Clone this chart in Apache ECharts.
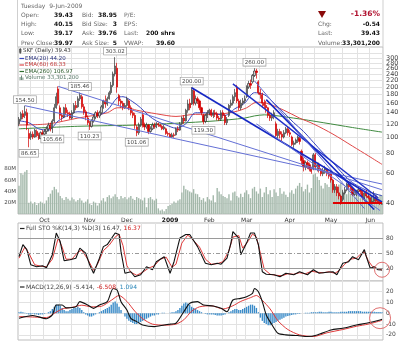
<!DOCTYPE html>
<html><head><meta charset="utf-8">
<script src="https://cdn.jsdelivr.net/npm/echarts@6/dist/echarts.min.js"></script>
<style>html,body{margin:0;padding:0;background:#fff}#c{width:400px;height:341px}</style>
</head><body><div id="c"></div>
<script>
// ---------- DATA ----------
const monthDays = [
 ['2008-09',[12,15,16,17,18,19,22,23,24,25,26,29,30]],
 ['2008-10',[1,2,3,6,7,8,9,10,13,14,15,16,17,20,21,22,23,24,27,28,29,30,31]],
 ['2008-11',[3,4,5,6,7,10,11,12,13,14,17,18,19,20,21,24,25,26,28]],
 ['2008-12',[1,2,3,4,5,8,9,10,11,12,15,16,17,18,19,22,23,24,26,29,30,31]],
 ['2009-01',[2,5,6,7,8,9,12,13,14,15,16,20,21,22,23,26,27,28,29,30]],
 ['2009-02',[2,3,4,5,6,9,10,11,12,13,17,18,19,20,23,24,25,26,27]],
 ['2009-03',[2,3,4,5,6,9,10,11,12,13,16,17,18,19,20,23,24,25,26,27,30,31]],
 ['2009-04',[1,2,3,6,7,8,9,13,14,15,16,17,20,21,22,23,24,27,28,29,30]],
 ['2009-05',[1,4,5,6,7,8,11,12,13,14,15,18,19,20,21,22,26,27,28,29]],
 ['2009-06',[1,2,3,4,5,8,9]]
];
const monthLabels = {'2008-10':'Oct','2008-11':'Nov','2008-12':'Dec','2009-01':'2009','2009-02':'Feb','2009-03':'Mar','2009-04':'Apr','2009-05':'May','2009-06':'Jun'};
const priceTicks = [40,60,80,100,120,140,160,180,200,220,240,260,280,300,320];
const volumeTicks = [20e6,40e6,60e6,80e6];
const stoTicks = [20,50,80];
const macdTicks = [-20,-10,0,10,20];

// [open, close, low, high]
const ohlc = [
 [120,128,116,132],[128,138,125,142],[138,132,128,145],[135,142,130,154.5],[140,118,110,148],
 [105,98,86.65,112],[100,104,96,108],[104,100,97,108],[100,110,99,112],[108,102,100,111],
 [103,98,96,106],[98,106,97,108],[106,104,101,110],
 [104,108,100,112],[108,112,104,116],[112,118,108,122],[118,112,108,122],[112,125,105.66,128],
 [125,150,122,158],[150,175,148,185],[195,160,155,202],[150,135,128,155],[135,132,125,140],
 [132,150,130,152],[150,140,135,158],[140,138,132,146],[138,130,128,142],[130,140,128,145],
 [140,155,138,160],[155,150,145,165],[152,170,150,176],[170,178,165,185.46],[175,152,148,180],
 [152,142,136,158],[142,132,126,146],[130,122,118,135],
 [122,116,110.23,125],[116,125,114,128],[125,132,122,135],[132,140,128,143],[140,134,130,145],
 [134,140,130,144],[140,152,137,156],[152,165,148,168],[165,158,150,178],[158,170,154,175],
 [170,185,168,190],[185,205,180,215],[205,240,200,248],[240,268,232,303.02],[260,200,185,280],
 [178,165,155,182],[165,160,150,170],[160,150,145,165],[150,155,148,160],
 [155,170,152,175],[165,150,145,168],[150,140,135,155],[140,135,130,145],[135,118,112,140],
 [115,106,101.06,118],[106,118,103,122],[118,128,115,132],[136,118,114,141],[118,115,110,122],
 [115,118,112,122],[118,108,104,120],[108,112,106,116],[112,118,110,122],[118,115,112,122],
 [115,120,113,123],[120,118,115,122],[118,116,114,120],[116,112,110,118],[112,115,110,118],
 [112,105,103,114],[105,104,101,108],
 [104,100,99,106],[100,103,99,106],[103,102,99,106],[103,112,102,114],[112,110,107,116],
 [110,120,109,123],[120,130,118,133],[130,125,120,135],[125,145,124,148],[145,158,140,168],
 [160,150,145,170],[158,192,156,200],[190,160,155,195],[160,170,155,178],[170,165,158,175],
 [165,150,145,168],[150,140,135,152],[135,124,119.3,138],[124,135,121,138],[135,140,130,145],
 [140,145,135,148],[145,135,132,148],[135,140,130,145],[140,138,132,146],[138,130,126,142],
 [130,128,125,134],[128,140,125,145],[140,135,130,145],[135,122,118,138],[122,128,118,132],
 [135,155,132,158],[155,160,150,168],[160,175,155,180],[175,185,165,195],[200,165,160,206],
 [165,150,145,170],[150,160,145,168],[160,165,155,172],[165,170,160,178],
 [175,200,172,205],[200,210,195,218],[210,205,195,222],[215,235,210,240],[235,250,230,260],
 [250,245,225,258],[215,185,180,220],[185,180,170,195],[180,160,150,185],[160,155,148,168],
 [155,150,140,165],[150,135,130,152],[135,130,125,140],[130,135,125,140],[135,140,128,145],
 [120,102,98,124],[102,108,98,112],[108,104,98,112],[104,100,94,108],[100,106,98,110],
 [106,112,104,115],[112,106,102,115],
 [106,104,100,110],[100,90,88,102],[90,92,86,95],[92,96,90,98],[96,100,92,102],
 [98,94,90,100],[82,72,68,84],[72,66,62,75],[66,70,63,72],[70,68,64,72],
 [68,64,62,70],[64,62,60,66],[64,78,63,80],[78,66,63,80],[66,68,62,70],
 [68,64,61,70],[64,60,58,65],[60,63,58,65],[63,64,60,67],[64,60,58,65],[60,58,56,62],
 [60,55,53,62],[55,48,46,56],[48,50,46,52],[50,46,44,52],[46,44,42,50],
 [44,40.5,39,45],[42,46,41,48],[46,48,45,50],[48,52,47,53],[52,50,48,53],
 [50,49,47,52],[49,45,44,50],[45,46,44,48],[46,47,44,48],[47,48,46,50],
 [48,47,45,49],[47,43,42,48],[43,46,42,47],[46,44,43,48],[44,43,42,46],
 [43,40.5,40,44],[40.5,41,39.5,44],[41,43,40,47],[43,41,40.5,44],[41,40,39.5,42],
 [40,39.97,38.9,41.5],[39.43,39.43,39.17,40.15]
];

// volume, millions
const volumeM = [
 50,72,70,75,78,20,22,18,21,16,
 19,22,20,18,24,30,36,42,48,44,
 38,32,28,25,30,27,24,29,26,22,
 25,28,24,20,22,26,18,16,22,20,
 15,19,24,28,22,30,33,28,31,35,
 30,26,32,28,30,26,29,32,27,25,
 30,28,26,24,29,12,28,30,26,24,
 27,10,6,8,5,9,14,16,18,22,
 20,24,26,38,50,44,42,40,38,44,
 36,35,30,25,28,22,30,26,24,33,
 21,46,40,35,32,30,28,35,24,38,
 40,32,29,36,30,38,42,35,28,45,
 48,40,36,45,30,38,48,35,42,30,
 44,38,32,46,36,40,34,30,38,42,
 36,45,50,55,48,40,44,52,38,46,
 70,72,66,60,50,45,55,52,48,62,
 58,50,45,52,55,40,38,35,42,36,
 34,30,38,32,28,36,30,34,38,40,
 32,28,36,30,34,33.3
];

const ema20 = [[0,125],[5,122],[10,112],[15,110],[20,125],[25,135],[30,142],[35,140],[40,135],[45,145],[50,172],[53,175],[58,163],[62,150],[66,135],[70,125],[75,118],[80,113],[85,120],[90,140],[95,140],[100,138],[105,135],[110,148],[115,160],[120,185],[125,180],[130,160],[135,140],[140,122],[145,108],[150,93],[155,80],[160,70],[165,60],[170,53],[175,49],[180,46],[185,44.2]];
const ema60 = [[0,118],[15,120],[30,130],[45,140],[50,150],[55,150],[60,145],[70,138],[80,133],[90,137],[100,137],[110,142],[116,150],[121,162],[126,160],[135,145],[143,130],[150,120],[160,104],[170,88],[178,77],[185,68.33]];
const ema260 = [[0,112],[30,116],[60,118],[80,121],[100,125],[115,130],[120,134],[125,136],[140,130],[155,122],[170,114],[185,106.97]];

const trendLines = [
 [[3,154.5],[185,52]],
 [[20,202],[185,48]],
 [[88,198],[185,40.5]],
 [[109,209],[183,43]],
 [[126,168],[181,36.5]],
 [[120,218],[176,37]],
 [[121,120],[184,36]]
];
const supportLine = [[160,40],[185,40]];

const swings = [[3,154.5,'154.50','top'],[5,86.65,'86.65','bottom'],[17,105.66,'105.66','bottom'],[31,185.46,'185.46','top'],[36,110.23,'110.23','bottom'],[49,303.02,'303.02','top'],[60,101.06,'101.06','bottom'],[88,200,'200.00','top'],[94,119.3,'119.30','bottom'],[120,260,'260.00','top']];

const stoK = [[0,43],[2,67],[4,57],[6,27],[9,23],[12,25],[14,21],[17,47],[19,90],[21,73],[23,35],[26,37],[29,40],[31,60],[34,50],[36,27],[38,10],[41,40],[43,63],[45,67],[49,90],[51,87],[52,53],[54,10],[57,13],[59,3],[62,7],[65,23],[68,17],[70,33],[74,43],[75,40],[77,10],[79,33],[82,80],[85,87],[87,87],[91,63],[92,60],[95,30],[98,27],[101,30],[103,28],[106,40],[108,70],[109,93],[112,80],[113,47],[116,70],[118,90],[120,90],[122,67],[124,13],[126,8],[130,7],[133,3],[136,10],[140,7],[143,13],[147,7],[150,17],[153,10],[157,12],[160,13],[162,7],[165,30],[168,33],[170,43],[173,37],[176,57],[177,43],[179,20],[181,23],[183,17],[185,16.47]];
const stoD = [[0,40],[3,62],[5,50],[8,27],[11,24],[14,23],[17,38],[20,80],[22,62],[24,38],[27,38],[30,52],[32,56],[35,38],[38,16],[40,28],[43,55],[46,66],[49,82],[51,88],[53,65],[55,25],[57,12],[60,6],[63,12],[66,20],[69,25],[72,38],[75,42],[78,22],[80,28],[83,70],[86,86],[89,75],[92,62],[95,38],[98,28],[101,29],[104,33],[107,55],[109,82],[112,85],[114,60],[117,75],[119,88],[121,82],[123,50],[125,18],[128,8],[131,6],[134,5],[137,9],[140,8],[143,11],[146,9],[149,14],[152,12],[155,11],[158,13],[161,10],[163,15],[166,28],[169,38],[172,40],[174,48],[176,52],[178,35],[180,24],[182,20],[185,16.37]];

const macd = [[0,-4.6],[7,-2],[14,-5],[17,-1.5],[19,7.7],[22,7.7],[24,5],[29,6],[31,10.8],[35,7.7],[38,4.6],[41,7.7],[45,10.8],[48,23],[50,21.5],[52,10.8],[55,3],[57,-4.6],[60,-7.7],[63,-10.8],[69,-12.3],[74,-10.8],[77,-10],[80,-9.2],[84,1.5],[87,9.2],[91,10.8],[94,7.7],[99,6.8],[103,4.6],[106,1.5],[109,12.3],[113,13.8],[116,15.4],[119,18.5],[120,23],[122,20],[124,10.8],[126,-1.5],[129,-10.8],[132,-18.5],[136,-20],[142,-20.6],[147,-21.5],[152,-20],[159,-15.4],[165,-13.8],[172,-10.8],[177,-9.2],[184,-6.2],[185,-5.414]];
const macdSignal = [[0,-3],[8,-3.5],[14,-4],[18,0],[22,4],[27,5.5],[32,7.5],[37,6],[42,6.5],[47,12],[51,16.5],[55,11],[59,2],[63,-5],[68,-10],[74,-11],[80,-10],[84,-6],[88,2],[92,6],[98,7],[104,4],[109,7],[113,11],[118,14.5],[121,16.5],[124,12],[128,4],[132,-7],[137,-15],[143,-20],[150,-21.5],[157,-18],[165,-15],[172,-12],[178,-10],[185,-6.508]];
const macdHist = [
 1,1.5,1,0.5,-0.5,-1,-1,-0.5,-1,-1,
 -1.5,-1,-1,-0.5,0,1,2,4,6,8,
 8,7,5,3,2,2,3,4,5,5,
 6,5,3,1,-1,-2,-3,-3,-2,-1,
 0,1,2,3,4,5,6,8,10,11,
 9,6,3,0,-3,-5,-7,-8,-9,-10,
 -10,-9,-8,-7,-6,-5,-4,-3,-2,-2,
 -1,-1,0,0.5,0.5,0,0,0.5,1,1,
 2,3,5,7,9,10,9,8,6,5,
 4,3,2,1,0,-0.5,-1,-1,-1,-1,
 -1.5,-2,-2,-2,-1.5,-1,0,1,2,3,
 4,4,3,3,4,5,6,7,8,8,
 7,5,1,-4,-7,-9,-10,-11,-11,-10,
 -9,-8,-7,-6,-5,-4,-3,-2.5,-2,-1.5,
 -1,-1,-0.5,-0.5,0,0,0.5,0.5,0.5,1,
 1,1,1,1.5,1.5,1,1,1,1.5,1.5,
 1,1,1,1,1.5,1.5,1.5,1.5,2,2,
 2,2,2,2,2,1.5,1.5,1.5,1.5,1.5,
 1.5,1.5,1.2,1.2,1.1,1.094
];

// ---------- BUILD ----------
const F = 'DejaVu Sans';
const L = Math.log;
const dates = monthDays.flatMap(([m, ds]) => ds.map(d => m + '-' + String(d).padStart(2, '0')));
const isMonthStart = i => i > 0 && dates[i].slice(0, 7) !== dates[i - 1].slice(0, 7);
const dayOf = i => +dates[i].slice(8);
const isGrid = i => i > 0 && (isMonthStart(i) || (dayOf(i) >= 11 && dayOf(i - 1) < 11) || (dayOf(i) >= 21 && dayOf(i - 1) < 21));
const lnPairs = arr => arr.map(([i, v]) => [i, L(v)]);

const xAxes = [0, 1, 2].map(g => ({
  type: 'category', gridIndex: g, data: dates, boundaryGap: true,
  axisLine: {show: false}, axisTick: {show: false},
  axisLabel: g === 0 ? {
    show: true, interval: (i) => isMonthStart(i), margin: 3,
    fontSize: 6, color: '#333', fontFamily: F,
    formatter: v => { const m = monthLabels[v.slice(0, 7)]; return m === '2009' ? '{b|2009}' : (m || ''); },
    rich: {b: {fontWeight: 'bold', fontSize: 6, fontFamily: F, color: '#111'}}
  } : {show: false},
  splitLine: {show: true, interval: (i) => isGrid(i), lineStyle: {color: '#e2e2e2', width: 1}}
}));

const gridBase = {left: 18, right: 17, show: true, borderColor: '#bdbdbd', borderWidth: 1, backgroundColor: '#fff', outerBoundsMode: 'none', containLabel: false};

const trendStyles = [
 {w: 1, c: '#6470d6'}, {w: 1, c: '#6470d6'}, {w: 1.6, c: '#1628c4'}, {w: 1.4, c: '#1f30c8'},
 {w: 1.6, c: '#1628c4'}, {w: 1, c: '#5a66d0'}, {w: 1, c: '#6470d6'}
];

const series = [
  {type: 'bar', xAxisIndex: 0, yAxisIndex: 1, data: volumeM.map(v => v * 1e6), barWidth: '72%',
   itemStyle: {color: '#a3b8aa'}, z: 1, silent: true},
  {type: 'line', xAxisIndex: 0, yAxisIndex: 0, data: lnPairs(ema260), showSymbol: false, smooth: 0.3,
   lineStyle: {color: '#3f8a3f', width: 1}, z: 2},
  {type: 'line', xAxisIndex: 0, yAxisIndex: 0, data: lnPairs(ema60), showSymbol: false, smooth: 0.3,
   lineStyle: {color: '#e04848', width: 1}, z: 2},
  {type: 'line', xAxisIndex: 0, yAxisIndex: 0, data: lnPairs(ema20), showSymbol: false, smooth: 0.3,
   lineStyle: {color: '#3a48c0', width: 1}, z: 2},
  {type: 'candlestick', xAxisIndex: 0, yAxisIndex: 0, data: ohlc.map(r => r.map(L)), barWidth: 1.7, z: 3,
   itemStyle: {color: '#d0d0d0', color0: '#d40000', borderColor: '#333', borderColor0: '#d40000', borderColorDoji: '#333', borderWidth: 0.7},
   markPoint: {
     symbol: 'circle', symbolSize: 1, itemStyle: {color: 'rgba(0,0,0,0)'}, silent: true,
     label: {show: true, fontSize: 5.5, fontFamily: F, color: '#444', backgroundColor: '#fff',
       borderColor: '#9a9a9a', borderWidth: 0.7, padding: [1, 1.5, 0, 1.5], distance: 2},
     data: swings.map(([i, p, t, pos]) => ({coord: [i, L(p)], value: t, label: {position: pos, formatter: t}}))
   }},
  ...trendLines.map((pts, k) => ({type: 'line', xAxisIndex: 0, yAxisIndex: 0, data: lnPairs(pts), showSymbol: false,
    lineStyle: {color: trendStyles[k].c, width: trendStyles[k].w}, z: 4, silent: true})),
  {type: 'line', xAxisIndex: 0, yAxisIndex: 0, data: lnPairs(supportLine), showSymbol: false,
   lineStyle: {color: '#e00000', width: 2}, z: 5, silent: true},
  {type: 'line', xAxisIndex: 1, yAxisIndex: 2, data: stoD, showSymbol: false,
   lineStyle: {color: '#e03a3a', width: 1}, z: 3,
   markLine: {symbol: 'none', silent: true, label: {show: false},
     data: [
       {yAxis: 80, lineStyle: {color: '#9a9a9a', type: 'solid', width: 1}},
       {yAxis: 50, lineStyle: {color: '#9a9a9a', type: [4, 2, 1, 2], width: 1}},
       {yAxis: 20, lineStyle: {color: '#9a9a9a', type: 'solid', width: 1}}
     ]}},
  {type: 'line', xAxisIndex: 1, yAxisIndex: 2, data: stoK, showSymbol: false,
   lineStyle: {color: '#111', width: 1.1}, z: 4,
   markPoint: {symbol: 'circle', symbolSize: 15, silent: true, label: {show: false},
     itemStyle: {color: 'rgba(0,0,0,0)', borderColor: '#e07070', borderWidth: 1},
     data: [{coord: [185, 17]}]}},
  {type: 'bar', xAxisIndex: 2, yAxisIndex: 3, data: macdHist, barWidth: '70%',
   itemStyle: {color: '#3a8bc8'}, z: 2, silent: true},
  {type: 'line', xAxisIndex: 2, yAxisIndex: 3, data: macdSignal, showSymbol: false, smooth: 0.25,
   lineStyle: {color: '#e03a3a', width: 1}, z: 3},
  {type: 'line', xAxisIndex: 2, yAxisIndex: 3, data: macd, showSymbol: false, smooth: 0.25,
   lineStyle: {color: '#111', width: 1.1}, z: 4,
   markPoint: {symbol: 'circle', symbolSize: 21, silent: true, label: {show: false},
     itemStyle: {color: 'rgba(0,0,0,0)', borderColor: '#e07070', borderWidth: 1},
     data: [{coord: [184, -4.5]}]}}
];

// ---------- header / legend graphics ----------
const G = [];
const txt = (text, x, y, o = {}) => G.push({type: 'text', x, y, silent: true, z: 100,
  style: {text, fill: o.c || '#666', fontSize: o.s || 6, fontFamily: F, fontWeight: o.b ? 'bold' : 'normal',
    align: o.a || 'left', textAlign: o.a || 'left', verticalAlign: 'middle', textVerticalAlign: 'middle', rich: o.rich}});
const seg = (x1, y1, x2, y2, c, w) => G.push({type: 'line', silent: true, z: 100, shape: {x1, y1, x2, y2}, style: {stroke: c, lineWidth: w || 1}});

seg(17.5, 0, 17.5, 47, '#cfcfcf'); seg(383, 0, 383, 47, '#cfcfcf');
txt('Tuesday  9-Jun-2009', 21, 6, {c: '#666'});
const rows = [15, 24.3, 33.7, 43];
[['Open:', 'High:', 'Low:', 'Prev Close:'], ['Bid:', 'Bid Size:', 'Ask:', 'Ask Size:'], ['P/E:', 'EPS:', 'Last:', 'VWAP:']]
  .forEach((col, ci) => col.forEach((t, ri) => txt(t, [21, 82, 124][ci], rows[ri])));
['39.43', '40.15', '39.17', '39.97'].forEach((t, ri) => txt(t, 73, rows[ri], {a: 'right', b: true, c: '#111'}));
['38.95', '3', '39.76', '5'].forEach((t, ri) => txt(t, 117, rows[ri], {a: 'right', b: true, c: '#111'}));
txt('200 shrs', 175, rows[2], {a: 'right', b: true, c: '#111'});
txt('39.60', 175, rows[3], {a: 'right', b: true, c: '#111'});
['Chg:', 'Last:', 'Volume:'].forEach((t, k) => txt(t, 318, rows[k + 1]));
['-0.54', '39.43', '33,301,200'].forEach((t, k) => txt(t, 380, rows[k + 1], {a: 'right', b: true, c: '#111'}));
txt('-1.36%', 380, 14.5, {a: 'right', b: true, c: '#b0102e', s: 7.5});
G.push({type: 'polygon', silent: true, z: 100, shape: {points: [[318, 11], [326, 11], [322, 18]]}, style: {fill: '#8a0a0a'}});

// price legend
G.push({type: 'rect', silent: true, z: 100, shape: {x: 19.5, y: 49, width: 1.6, height: 3.5}, style: {fill: '#888', stroke: '#333', lineWidth: 0.5}});
seg(20.3, 48, 20.3, 54, '#333', 0.6);
txt('SKF (Daily) 39.43', 23, 51, {c: '#333', s: 5.5});
seg(19.5, 58.5, 24, 58.5, '#3a48c0', 1.2); txt('EMA(20) 44.20', 25, 58.5, {c: '#28307a', s: 5.5});
seg(19.5, 65, 24, 65, '#e04848', 1.2); txt('EMA(60) 68.33', 25, 65, {c: '#c03030', s: 5.5});
seg(19.5, 71.5, 24, 71.5, '#2f6f2f', 1.2); txt('EMA(260) 106.97', 25, 71.5, {c: '#2a5a2a', s: 5.5});
[[19.6, 3], [21, 4.5], [22.4, 2.5]].forEach(([x, h]) => G.push({type: 'rect', silent: true, z: 100, shape: {x, y: 80 - h, width: 1, height: h}, style: {fill: '#6d8a7a'}}));
txt('Volume 33,301,200', 25, 78, {c: '#557565', s: 5.5});

// panel titles
seg(20, 228.5, 24.5, 228.5, '#222', 1.2);
txt('{k|Full STO %K(14,3) %D(3) 16.47, }{d|16.37}', 26, 228.5, {s: 6, rich: {
  k: {fill: '#444', fontSize: 6, fontFamily: F}, d: {fill: '#d02020', fontSize: 6, fontFamily: F}}});
seg(20, 287, 24.5, 287, '#222', 1.2);
txt('{k|MACD(12,26,9) -5.414, }{d|-6.508}{k|, }{h|1.094}', 26, 287, {s: 6, rich: {
  k: {fill: '#444', fontSize: 6, fontFamily: F}, d: {fill: '#d02020', fontSize: 6, fontFamily: F}, h: {fill: '#2a86b8', fontSize: 6, fontFamily: F}}});

const option = {
  animation: false,
  backgroundColor: '#fff',
  textStyle: {fontFamily: F},
  grid: [
    Object.assign({top: 47, height: 167}, gridBase),
    Object.assign({top: 223, height: 58}, gridBase),
    Object.assign({top: 281, height: 59}, gridBase)
  ],
  xAxis: xAxes,
  yAxis: [
    {type: 'value', gridIndex: 0, position: 'right', min: L(34.3), max: L(349), scale: true,
     axisLine: {show: false},
     axisTick: {show: false, customValues: priceTicks.map(L)},
     axisLabel: {customValues: priceTicks.map(L), formatter: v => String(Math.round(Math.exp(v))),
       fontSize: 6.5, color: '#444', margin: 3, fontFamily: F},
     splitLine: {show: true, lineStyle: {color: '#e2e2e2', width: 1}}},
    {type: 'value', gridIndex: 0, position: 'left', min: 0, max: 295.6e6,
     axisLine: {show: false},
     axisTick: {show: false, customValues: volumeTicks},
     axisLabel: {customValues: volumeTicks, formatter: v => (v / 1e6) + 'M', fontSize: 5.5, color: '#444', margin: 2, fontFamily: F},
     splitLine: {show: false}},
    {type: 'value', gridIndex: 1, position: 'right', min: -5.4, max: 110,
     axisLine: {show: false},
     axisTick: {show: false, customValues: stoTicks},
     axisLabel: {customValues: stoTicks, fontSize: 6, color: '#444', margin: 3, fontFamily: F},
     splitLine: {show: false}},
    {type: 'value', gridIndex: 2, position: 'right', min: -24.7, max: 29.9,
     axisLine: {show: false},
     axisTick: {show: false, customValues: macdTicks},
     axisLabel: {customValues: macdTicks, fontSize: 6, color: '#444', margin: 3, fontFamily: F},
     splitLine: {show: true, lineStyle: {color: '#e2e2e2', width: 1}}}
  ],
  series,
  graphic: G
};
const chart = echarts.init(document.getElementById('c'), null, {renderer: 'canvas'});
chart.setOption(option);
</script>
</body></html>
